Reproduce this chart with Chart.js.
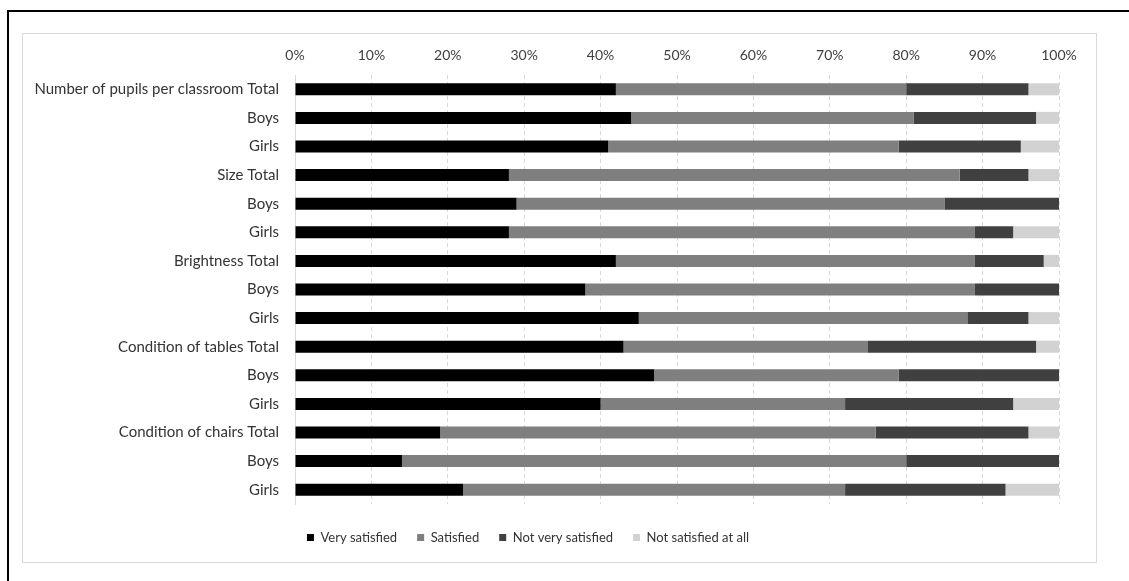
<!DOCTYPE html>
<html>
<head>
<meta charset="utf-8">
<title>Satisfaction with classroom conditions</title>
<script src="https://cdn.jsdelivr.net/npm/chart.js@4/dist/chart.umd.min.js"></script>
<style>
  html, body { margin: 0; padding: 0; background: #ffffff; }
  body { width: 1129px; height: 581px; position: relative; overflow: hidden; }
  #frame {
    position: absolute; left: 7px; top: 10px; width: 1140px; height: 600px;
    border-left: 2px solid #000; border-top: 2px solid #000;
  }
  #panel {
    position: absolute; left: 22px; top: 33px; width: 1073px; height: 528px;
    border: 1px solid #d9d9d9; background: #ffffff;
  }
  #panel canvas { display: block; }
</style>
</head>
<body>
<div id="frame"></div>
<div id="panel"><canvas id="chart" width="1073" height="528"></canvas></div>
<script>
// Row labels, top to bottom
const categories = [
  'Number of pupils per classroom Total', 'Boys', 'Girls',
  'Size Total', 'Boys', 'Girls',
  'Brightness Total', 'Boys', 'Girls',
  'Condition of tables Total', 'Boys', 'Girls',
  'Condition of chairs Total', 'Boys', 'Girls'
];

// Share of answers (%) per row
const verySatisfied      = [42, 44, 41, 28, 29, 28, 42, 38, 45, 43, 47, 40, 19, 14, 22];
const satisfied          = [38, 37, 38, 59, 56, 61, 47, 51, 43, 32, 32, 32, 57, 66, 50];
const notVerySatisfied   = [16, 16, 16,  9, 15,  5,  9, 11,  8, 22, 21, 22, 20, 20, 21];
const notSatisfiedAtAll  = [ 4,  3,  5,  4,  0,  6,  2,  0,  4,  3,  0,  6,  4,  0,  7];

const seriesNames = ['Very satisfied', 'Satisfied', 'Not very satisfied', 'Not satisfied at all'];
const xTickValues = [0, 10, 20, 30, 40, 50, 60, 70, 80, 90, 100];

const FONT = 'Lato, "Open Sans", sans-serif';
const colors = ['#000000', '#7f7f7f', '#404040', '#d2d2d2'];
const values = [verySatisfied, satisfied, notVerySatisfied, notSatisfiedAtAll];

const datasets = seriesNames.map((name, i) => ({
  label: name,
  data: values[i],
  backgroundColor: colors[i],
  borderWidth: 0,
  categoryPercentage: 1,
  barPercentage: 0.42
}));

// Nudge the legend box after layout so it sits under the bars
const legendShift = {
  id: 'legendShift',
  afterLayout(chart) {
    const lg = chart.legend;
    if (!lg) return;
    lg.left -= 13; lg.right -= 13;
    lg.top += 7; lg.bottom += 7;
  }
};

new Chart(document.getElementById('chart'), {
  type: 'bar',
  data: { labels: categories, datasets },
  plugins: [legendShift],
  options: {
    indexAxis: 'y',
    responsive: false,
    animation: false,
    events: [],
    layout: { padding: { left: 0, right: 37, top: 0, bottom: 15 } },
    scales: {
      x: {
        position: 'top',
        stacked: true,
        min: 0,
        max: 100,
        afterBuildTicks: (scale) => { scale.ticks = xTickValues.map(v => ({ value: v })); },
        afterFit: (scale) => { scale.height = 41; },
        ticks: {
          callback: (v) => v + '%',
          color: '#404040',
          font: { family: FONT, size: 14 },
          padding: 11
        },
        grid: { color: '#d9d9d9', drawTicks: false, lineWidth: 1, borderDash: [4, 3] },
        border: { display: false, dash: [4, 3] }
      },
      y: {
        stacked: true,
        afterFit: (scale) => { scale.width = 272; },
        ticks: {
          color: '#333333',
          font: { family: FONT, size: 15 },
          padding: 16,
          autoSkip: false
        },
        grid: { display: false, drawTicks: false },
        border: { display: true, color: '#d9d9d9', width: 1 }
      }
    },
    plugins: {
      tooltip: { enabled: false },
      legend: {
        position: 'bottom',
        labels: {
          boxWidth: 7,
          boxHeight: 7,
          padding: 20,
          color: '#333333',
          font: { family: FONT, size: 13 }
        }
      }
    }
  }
});
</script>
</body>
</html>
